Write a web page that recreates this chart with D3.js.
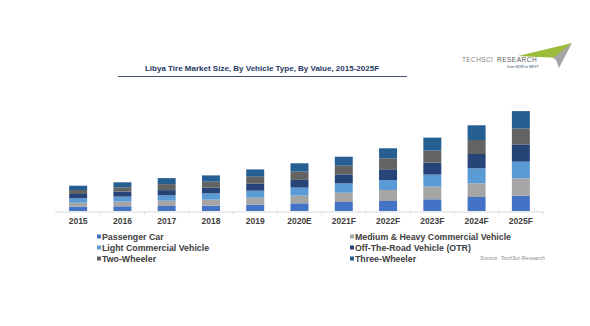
<!DOCTYPE html>
<html>
<head>
<meta charset="utf-8">
<script src="https://cdn.jsdelivr.net/npm/d3@7"></script>
<style>
  html, body { margin: 0; padding: 0; background: #ffffff; }
  svg { display: block; }
</style>
</head>
<body>
<svg id="chart" width="590" height="326"></svg>
<script>
// Libya tire market size by vehicle type (value), stacked per year
const years = ["2015", "2016", "2017", "2018", "2019", "2020E", "2021F", "2022F", "2023F", "2024F", "2025F"];
const seriesNames = [
  "Passenger Car",
  "Medium & Heavy Commercial Vehicle",
  "Light Commercial Vehicle",
  "Off-The-Road Vehicle (OTR)",
  "Two-Wheeler",
  "Three-Wheeler"
];
const passengerCar = [4.3, 4.7, 5.0, 5.3, 6.3, 7.7, 9.0, 10.0, 11.7, 14.0, 15.3];
const mediumHeavyCV = [4.0, 4.7, 5.3, 6.0, 7.0, 7.7, 9.3, 11.0, 12.7, 13.7, 17.3];
const lightCV = [4.4, 5.0, 5.3, 6.3, 7.0, 8.0, 9.3, 10.0, 12.0, 15.0, 16.7];
const offTheRoad = [4.3, 5.0, 5.3, 5.7, 7.0, 7.7, 9.0, 10.7, 12.0, 14.3, 17.3];
const twoWheeler = [4.0, 4.3, 6.0, 6.0, 7.0, 8.3, 8.7, 11.0, 12.0, 14.0, 16.0];
const threeWheeler = [4.3, 5.0, 6.0, 6.3, 7.3, 8.3, 9.0, 10.0, 13.0, 14.7, 17.3];
const seriesValues = [passengerCar, mediumHeavyCV, lightCV, offTheRoad, twoWheeler, threeWheeler];
const seriesColors = ["#4472C4", "#A5A5A5", "#5B9BD5", "#264478", "#636363", "#255E91"];

const svg = d3.select("#chart");
const font = "'Liberation Sans', Arial, sans-serif";

// table of rows for d3.stack
const rows = years.map((y, i) => {
  const r = { year: y };
  seriesNames.forEach((s, k) => { r[s] = seriesValues[k][i]; });
  return r;
});
const stacked = d3.stack().keys(seriesNames)(rows);

const x = d3.scaleBand().domain(years).range([56, 543]).paddingInner(0.594).paddingOuter(0.297);
const y = d3.scaleLinear().domain([0, 110]).range([211, 101]);

// bars
svg.append("g").selectAll("g")
  .data(stacked)
  .join("g")
  .attr("fill", (d, i) => seriesColors[i])
  .selectAll("rect")
  .data(d => d)
  .join("rect")
  .attr("x", d => x(d.data.year))
  .attr("width", x.bandwidth())
  .attr("y", d => y(d[1]))
  .attr("height", d => y(d[0]) - y(d[1]));

// category axis
const axis = svg.append("g")
  .attr("transform", "translate(0,211.5)")
  .call(d3.axisBottom(x).tickSize(0).tickPadding(6));
axis.select(".domain").attr("stroke", "#d9d9d9").attr("stroke-width", 1);
axis.selectAll(".tick text")
  .attr("font-family", font)
  .attr("font-weight", "bold")
  .attr("font-size", 8.5)
  .attr("fill", "#404040");
// divider ticks between categories
axis.selectAll("line.divider")
  .data(d3.range(years.length + 1))
  .join("line")
  .attr("class", "divider")
  .attr("x1", i => 56 + i * x.step())
  .attr("x2", i => 56 + i * x.step())
  .attr("y1", 0).attr("y2", 3)
  .attr("stroke", "#d9d9d9");

// title with underline
svg.append("text")
  .attr("x", 262).attr("y", 71)
  .attr("text-anchor", "middle")
  .attr("font-family", font)
  .attr("font-weight", "bold")
  .attr("font-size", 8)
  .attr("fill", "#1F3864")
  .text("Libya Tire Market Size, By Vehicle Type, By Value, 2015-2025F");
svg.append("line")
  .attr("x1", 118).attr("x2", 407)
  .attr("y1", 76.5).attr("y2", 76.5)
  .attr("stroke", "#44546A").attr("stroke-width", 1.2);

// brand mark
const logo = svg.append("g");
logo.append("path")
  .attr("d", "M518,56 L572,43 L560,58 Z")
  .attr("fill", "#9BBB3B");
logo.append("path")
  .attr("d", "M553,58 L572,43 L559,68 L556,60 Z")
  .attr("fill", "#A6A6A6");
logo.append("text")
  .attr("x", 462).attr("y", 62)
  .attr("font-family", font).attr("font-size", 6.5)
  .attr("fill", "#7F7F7F").attr("letter-spacing", 0.4)
  .text("TECHSCI");
logo.append("text")
  .attr("x", 497).attr("y", 62)
  .attr("font-family", font).attr("font-size", 6.5)
  .attr("fill", "#595959").attr("letter-spacing", 0.5)
  .text("RESEARCH");
logo.append("text")
  .attr("x", 507).attr("y", 67.5)
  .attr("font-family", font).attr("font-size", 3.6).attr("font-style", "italic")
  .attr("fill", "#1F4E79")
  .text("from NOW to NEXT");

// legend
const legendPos = [
  [97, 237], [350, 237],
  [97, 248], [350, 248],
  [97, 259], [350, 259]
];
const legendOrder = [0, 1, 2, 3, 4, 5];
const legend = svg.append("g").selectAll("g")
  .data(legendOrder)
  .join("g")
  .attr("transform", (k, i) => `translate(${legendPos[i][0]},${legendPos[i][1]})`);
legend.append("rect")
  .attr("x", 0).attr("y", -2.5).attr("width", 4).attr("height", 4)
  .attr("fill", k => seriesColors[k]);
legend.append("text")
  .attr("x", 5).attr("y", 3.2)
  .attr("font-family", font).attr("font-weight", "bold").attr("font-size", 8.8)
  .attr("fill", "#404040")
  .text(k => seriesNames[k]);

svg.append("text")
  .attr("x", 480).attr("y", 260)
  .attr("font-family", font).attr("font-style", "italic").attr("font-size", 5.5)
  .attr("fill", "#8C8C8C")
  .text("Source: TechSci Research");
</script>
</body>
</html>
